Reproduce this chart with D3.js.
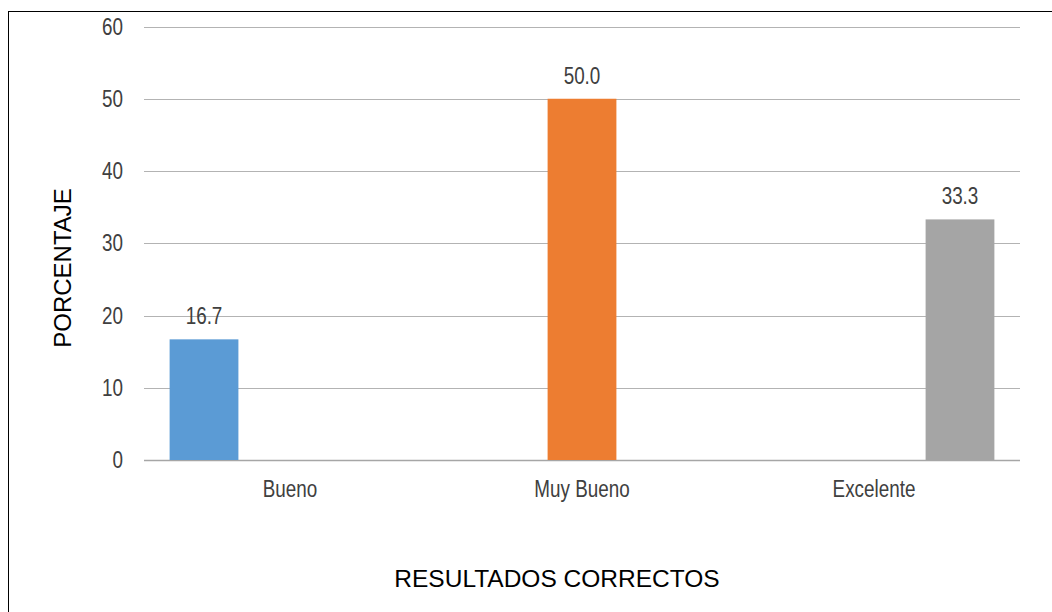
<!DOCTYPE html>
<html>
<head>
<meta charset="utf-8">
<script src="https://cdn.jsdelivr.net/npm/d3@7"></script>
<style>
  body { margin: 0; background: #fff; }
  .narrow { font-family: "Liberation Sans", Arial, sans-serif; }
</style>
</head>
<body>
<script>
// datos del grafico
var categories = ["Bueno", "Muy Bueno", "Excelente"];
var series = ["Bueno", "Muy Bueno", "Excelente"];
var values = [16.7, 50.0, 33.3];   // un valor por serie, en su propia categoria
var colors = ["#5B9BD5", "#ED7D31", "#A5A5A5"];
var yTicks = [0, 10, 20, 30, 40, 50, 60];

var width = 1052, height = 612;
var margin = {top: 26.5, right: 32, bottom: 152, left: 144};
var squeeze = 0.82; // imita Arial Narrow

var svg = d3.select("body").append("svg")
  .attr("width", width)
  .attr("height", height);

// marco del grafico
svg.append("rect")
  .attr("x", 8.5).attr("y", 11.5)
  .attr("width", 1060).attr("height", 620)
  .attr("fill", "none")
  .attr("stroke", "#000")
  .attr("stroke-width", 1);

var x = d3.scaleBand()
  .domain(categories)
  .range([margin.left, width - margin.right]);

var bw = x.bandwidth();
var step = bw * 0.2945;
var xs = d3.scaleBand()
  .domain(series)
  .range([bw / 2 - 1.5 * step, bw / 2 + 1.5 * step])
  .paddingInner(0.2)
  .paddingOuter(0.1);

var y = d3.scaleLinear()
  .domain([0, 60])
  .range([height - margin.bottom, margin.top]);

// lineas de cuadricula
svg.append("g")
  .selectAll("line")
  .data(yTicks)
  .enter().append("line")
  .attr("x1", margin.left)
  .attr("x2", width - margin.right)
  .attr("y1", d => Math.round(y(d)) + 0.5)
  .attr("y2", d => Math.round(y(d)) + 0.5)
  .attr("stroke", d => d == 0 ? "#A6A6A6" : "#B3B3B3")
  .attr("stroke-width", d => d == 0 ? 1.5 : 1.2);

function narrowText(sel, fx, fy) {
  sel.attr("transform", (d, i) => "translate(" + fx(d, i) + "," + fy(d, i) + ") scale(" + squeeze + ",1)");
}

// etiquetas del eje y
svg.append("g")
  .attr("class", "narrow")
  .selectAll("text")
  .data(yTicks)
  .enter().append("text")
  .call(narrowText, d => 123, d => y(d) + 8)
  .attr("text-anchor", "end")
  .attr("font-size", 23)
  .attr("fill", "#404040")
  .text(d => d);

// barras
svg.append("g")
  .selectAll("rect")
  .data(series)
  .enter().append("rect")
  .attr("x", (d, i) => x(categories[i]) + xs(d))
  .attr("width", xs.bandwidth())
  .attr("y", (d, i) => y(values[i]))
  .attr("height", (d, i) => y(0) - y(values[i]))
  .attr("fill", (d, i) => colors[i]);

// etiquetas de datos
svg.append("g")
  .attr("class", "narrow")
  .selectAll("text")
  .data(series)
  .enter().append("text")
  .call(narrowText, (d, i) => x(categories[i]) + xs(d) + xs.bandwidth() / 2, (d, i) => y(values[i]) - 15)
  .attr("text-anchor", "middle")
  .attr("font-size", 23)
  .attr("fill", "#404040")
  .text((d, i) => values[i].toFixed(1));

// etiquetas de categorias
svg.append("g")
  .attr("class", "narrow")
  .selectAll("text")
  .data(categories)
  .enter().append("text")
  .call(narrowText, d => x(d) + bw / 2, d => 497)
  .attr("text-anchor", "middle")
  .attr("font-size", 23)
  .attr("fill", "#404040")
  .text(d => d);

// titulos de ejes
svg.append("text")
  .attr("x", 557)
  .attr("y", 587)
  .attr("text-anchor", "middle")
  .attr("font-family", "Liberation Sans, Arial, sans-serif")
  .attr("font-size", 24.5)
  .attr("fill", "#000")
  .text("RESULTADOS CORRECTOS");

svg.append("text")
  .attr("transform", "translate(71,268) rotate(-90)")
  .attr("text-anchor", "middle")
  .attr("font-family", "Liberation Sans, Arial, sans-serif")
  .attr("font-size", 24)
  .attr("fill", "#000")
  .text("PORCENTAJE");
</script>
</body>
</html>
